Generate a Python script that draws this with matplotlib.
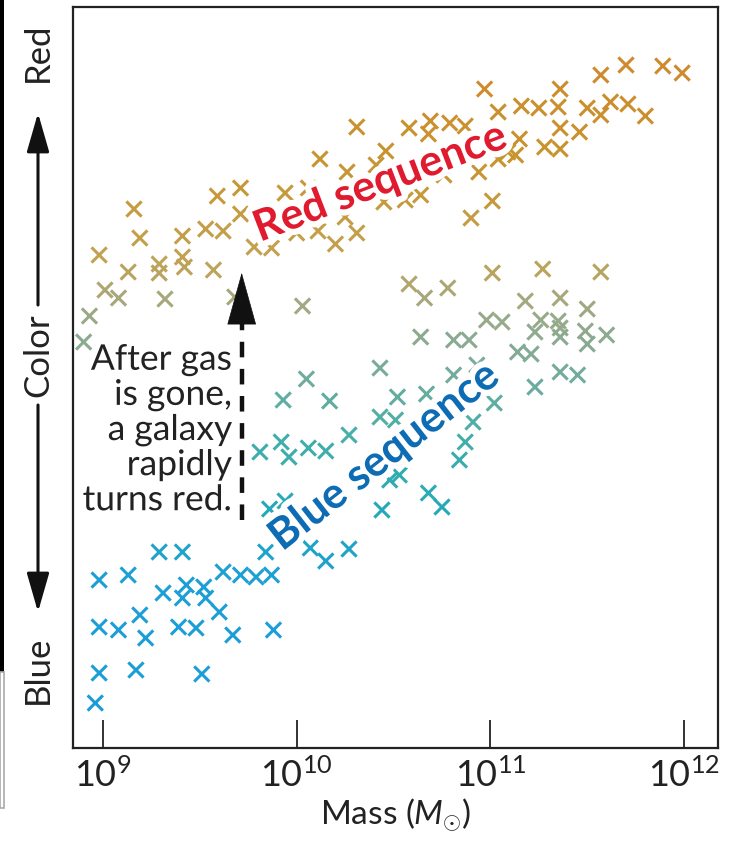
import numpy as np
import matplotlib
matplotlib.use('Agg')
import matplotlib.pyplot as plt
import matplotlib.patheffects as pe
from matplotlib.colors import LinearSegmentedColormap, Normalize
from matplotlib.patches import Rectangle
from matplotlib.ticker import NullLocator

plt.rcParams['font.family'] = ['Lato', 'DejaVu Sans']
plt.rcParams['mathtext.fontset'] = 'custom'
plt.rcParams['mathtext.rm'] = 'Lato'
plt.rcParams['mathtext.it'] = 'Lato:italic'

# log10 of galaxy mass and colour index (0 = bluest, 741 = reddest)
red_logm = [10.31, 10.12, 10.46, 9.71, 9.59, 9.16, 9.19, 8.98, 9.41, 9.53, 9.62, 9.13,
            9.29, 9.29, 9.41, 9.42, 9.57, 9.78, 9.87, 10.00, 10.11, 10.20, 10.31, 10.25,
            10.45, 9.71, 10.58, 10.69, 10.79, 10.87, 10.68, 10.97, 11.36, 11.57, 11.70,
            11.89, 11.99, 11.04, 11.16, 11.25, 11.35, 11.50, 11.57, 11.62, 11.71, 11.80,
            11.36, 11.46, 11.28, 11.36, 11.15, 11.13, 11.04, 11.09, 10.94, 10.76, 11.01,
            10.90, 10.64, 10.56, 10.06, 9.94, 10.26, 10.41]
red_color = [621, 589, 597, 560, 552, 539, 510, 493, 512, 519, 517, 476,
             484, 475, 491, 481, 478, 501, 500, 515, 517, 504, 515, 531,
             546, 534, 620, 627, 625, 622, 614, 659, 659, 673, 683,
             682, 675, 636, 642, 640, 641, 640, 633, 646, 644, 632,
             620, 616, 601, 599, 609, 593, 589, 596, 576, 573, 547,
             530, 553, 548, 560, 555, 576, 583]

green_logm = [9.01, 9.08, 9.32, 8.93, 10.03, 9.68, 8.90, 11.01, 11.27, 11.57, 10.58,
              10.66, 10.78, 11.18, 11.36, 11.50, 10.98, 11.06, 11.26, 11.35, 10.64,
              10.81, 10.89, 11.23, 11.36, 11.36, 11.49, 11.60, 11.50, 11.14, 11.21,
              11.36, 11.45, 11.23]
green_color = [458, 450, 449, 432, 442, 451, 406, 475, 479, 476, 464,
               450, 460, 447, 450, 439, 428, 426, 428, 427, 411,
               408, 408, 416, 420, 411, 417, 413, 404, 396, 394,
               376, 373, 361]

teal_logm = [10.43, 10.05, 9.93, 10.17, 10.52, 10.67, 10.43, 10.51, 10.27, 9.92, 9.81,
             9.96, 10.06, 10.15, 10.53, 10.48, 10.68, 10.75, 10.44, 9.86, 9.94, 10.81,
             10.93, 11.02, 10.91, 10.87, 10.84]
teal_color = [380, 369, 348, 347, 351, 354, 331, 328, 313, 306, 296,
              291, 300, 297, 273, 268, 255, 241, 238, 239, 247, 373,
              383, 345, 326, 306, 288]

blue_logm = [9.29, 9.41, 8.98, 9.13, 9.62, 9.71, 9.79, 9.87, 9.84, 10.07, 10.15, 10.27,
             9.31, 9.43, 9.52, 9.41, 9.53, 9.60, 9.19, 9.22, 8.98, 9.08, 9.39, 9.48,
             9.67, 9.88, 8.98, 9.17, 9.51, 8.96]
blue_color = [196, 196, 168, 173, 176, 173, 171, 173, 196, 200, 187, 199,
              155, 163, 161, 150, 150, 136, 133, 110, 121, 118, 121, 120,
              113, 118, 75, 78, 74, 45]

x_ticks = [1e9, 1e10, 1e11, 1e12]
note_text = 'After gas\nis gone,\na galaxy\nrapidly\nturns red.'

logm = np.array(red_logm + green_logm + teal_logm + blue_logm)
color = np.array(red_color + green_color + teal_color + blue_color)
mass = 10 ** logm

cmap = LinearSegmentedColormap.from_list('galaxy', [
    (0.00, '#1a9bd8'), (0.22, '#1c9fd6'), (0.32, '#22a9b9'), (0.42, '#44afa8'),
    (0.52, '#7cab9a'), (0.60, '#a2a982'), (0.66, '#c2a252'), (0.80, '#c8942e'),
    (1.00, '#d2842c')])

fig = plt.figure(figsize=(7.35, 8.56), dpi=100)
ax = fig.add_axes([73 / 735, 108 / 856, 645 / 735, 741 / 856])

ax.scatter(mass, color, c=color, cmap=cmap, norm=Normalize(0, 741),
           marker='x', s=120, linewidths=2.2, zorder=2)

ax.set_xscale('log')
ax.set_xlim(10 ** 8.845, 10 ** 12.175)
ax.set_ylim(0, 741)
ax.set_xticks(x_ticks)
ax.xaxis.set_minor_locator(NullLocator())
ax.set_yticks([])
ax.tick_params(axis='x', direction='in', length=20, width=1.3, labelsize=26,
               pad=7, colors='#222222')
for s in ax.spines.values():
    s.set_linewidth(1.6)
    s.set_color('#222222')
ax.set_xlabel(r'Mass ($M_{\odot}$)', fontsize=24, color='#222222', labelpad=2)

halo = [pe.withStroke(linewidth=9, foreground='white')]
ax.text(10 ** 10.43, 566, 'Red sequence', color='#e01b2f', fontsize=31, fontweight='bold',
        rotation=21, rotation_mode='anchor', ha='center', va='center',
        path_effects=halo, zorder=4)
ax.text(10 ** 10.45, 292, 'Blue sequence', color='#0d6cb4', fontsize=31, fontweight='bold',
        rotation=38, rotation_mode='anchor', ha='center', va='center',
        path_effects=halo, zorder=4)
ax.text(10 ** 9.665, 318, note_text, color='#222222', fontsize=25.5, ha='right', va='center',
        multialignment='right', linespacing=1.12,
        path_effects=[pe.withStroke(linewidth=5, foreground='white')], zorder=4)

# dashed arrow: galaxy turning red
arrow_x = 10 ** 9.716
ax.plot([arrow_x, arrow_x], [228, 430], color='#111111', lw=3.2, ls=(0, (3.5, 2.6)), zorder=5)
ax.annotate('', xy=(arrow_x, 478), xytext=(arrow_x, 420),
            arrowprops=dict(arrowstyle='-|>,head_length=1.8,head_width=0.5',
                            color='#111111', lw=0.5, mutation_scale=20), zorder=5)

# y axis label: Blue <- Color -> Red
lx = 38 / 735
fig.text(lx, 1 - 52 / 856, 'Red', rotation=90, fontsize=25, ha='center', va='center', color='#222222')
fig.text(lx, 1 - 355 / 856, 'Color', rotation=90, fontsize=25, ha='center', va='center', color='#222222')
fig.text(lx, 1 - 670 / 856, 'Blue', rotation=90, fontsize=25, ha='center', va='center', color='#222222')
side_arrow = dict(arrowstyle='-|>,head_length=0.8,head_width=0.23', color='#111111',
                  lw=2.2, mutation_scale=30, shrinkA=0, shrinkB=0)
ax.annotate('', xy=(lx, 1 - 113 / 856), xytext=(lx, 1 - 305 / 856), xycoords='figure fraction',
            arrowprops=side_arrow)
ax.annotate('', xy=(lx, 1 - 612 / 856), xytext=(lx, 1 - 405 / 856), xycoords='figure fraction',
            arrowprops=side_arrow)

# scanned edge on the left
fig.add_artist(Rectangle((0, 1 - 672 / 856), 4 / 735, 672 / 856, transform=fig.transFigure,
                         color='black', lw=0))
fig.add_artist(Rectangle((0, 1 - 808 / 856), 4 / 735, 136 / 856, transform=fig.transFigure,
                         facecolor='none', edgecolor='#aaaaaa', lw=1.2))

fig.savefig('out.png', dpi=100)
